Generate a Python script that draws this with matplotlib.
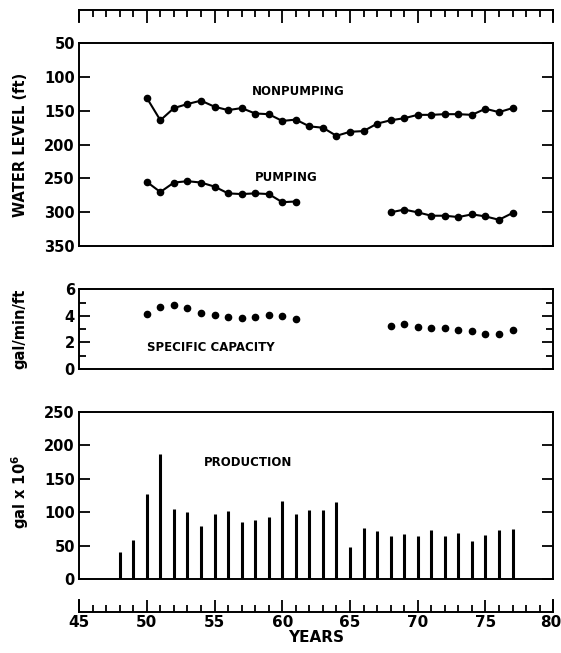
import matplotlib
import matplotlib.pyplot as plt
from matplotlib.ticker import MultipleLocator, FuncFormatter

matplotlib.use("Agg")

# water level (ft below surface)
np_years = [50, 51, 52, 53, 54, 55, 56, 57, 58, 59, 60, 61, 62, 63,
            64, 65, 66, 67, 68, 69, 70, 71, 72, 73, 74, 75, 76, 77]
nonpumping = [131, 164, 146, 140, 135, 144, 149, 146, 154, 155, 165, 163, 173, 175,
              187, 181, 180, 169, 164, 161, 156, 156, 155, 155, 156, 147, 152, 146]

pump_years_a = [50, 51, 52, 53, 54, 55, 56, 57, 58, 59, 60, 61]
pumping_a = [255, 270, 256, 254, 256, 262, 272, 273, 272, 273, 285, 284]
pump_years_b = [68, 69, 70, 71, 72, 73, 74, 75, 76, 77]
pumping_b = [300, 296, 300, 305, 305, 307, 303, 306, 311, 301]

# specific capacity (gal/min/ft)
sc_years = [50, 51, 52, 53, 54, 55, 56, 57, 58, 59, 60, 61,
            68, 69, 70, 71, 72, 73, 74, 75, 76, 77]
spec_cap = [4.15, 4.65, 4.8, 4.6, 4.2, 4.1, 3.9, 3.85, 3.9, 4.1, 3.95, 3.75,
            3.2, 3.35, 3.15, 3.05, 3.05, 2.9, 2.85, 2.65, 2.6, 2.9]

# production (gal x 10^6)
prod_years = [48, 49, 50, 51, 52, 53, 54, 55, 56, 57, 58, 59, 60, 61, 62,
              63, 64, 65, 66, 67, 68, 69, 70, 71, 72, 73, 74, 75, 76, 77]
production = [41, 58, 127, 188, 105, 101, 80, 97, 102, 86, 88, 93, 117, 98, 104,
              103, 115, 48, 76, 72, 64, 68, 64, 74, 65, 69, 57, 66, 74, 75]

plt.rcParams['font.family'] = ['DejaVu Sans']
plt.rcParams['font.weight'] = 'bold'

fig = plt.figure(figsize=(5.61, 6.53), dpi=100)

L, W = 0.141, 0.845
ax1 = fig.add_axes([L, 0.623, W, 0.311])
ax2 = fig.add_axes([L, 0.435, W, 0.122])
ax3 = fig.add_axes([L, 0.113, W, 0.256])

for ax in (ax1, ax2, ax3):
    ax.set_xlim(45, 80)
    ax.set_xticks([])
    for s in ax.spines.values():
        s.set_linewidth(1.4)
    ax.tick_params(axis='y', which='both', direction='in', left=True, right=True,
                   labelsize=10.5, pad=3, width=1.3)
    ax.tick_params(axis='y', which='major', length=8)
    ax.tick_params(axis='y', which='minor', length=5)

# water level panel
ax1.plot(np_years, nonpumping, color='black', lw=1.5, marker='o', ms=4.5)
ax1.plot(pump_years_a, pumping_a, color='black', lw=1.5, marker='o', ms=4.5)
ax1.plot(pump_years_b, pumping_b, color='black', lw=1.5, marker='o', ms=4.5)
ax1.set_ylim(350, 50)
ax1.set_yticks([50, 100, 150, 200, 250, 300, 350])
ax1.text(61.2, 122, 'NONPUMPING', fontsize=8.5, ha='center', va='center')
ax1.text(60.3, 248, 'PUMPING', fontsize=8.5, ha='center', va='center')

# specific capacity panel
ax2.plot(sc_years, spec_cap, 'o', color='black', ms=4.5)
ax2.set_ylim(0, 6)
ax2.set_yticks([0, 2, 4, 6])
ax2.yaxis.set_minor_locator(MultipleLocator(1))
ax2.text(50, 1.6, 'SPECIFIC CAPACITY', fontsize=8.5, ha='left', va='center')

# production panel
ax3.vlines(prod_years, 0, production, color='black', lw=2.2)
ax3.set_ylim(0, 250)
ax3.set_yticks([0, 50, 100, 150, 200, 250])
ax3.text(54.2, 174, 'PRODUCTION', fontsize=8.5, ha='left', va='center')

fig.text(0.036, 0.778, 'WATER LEVEL (ft)', rotation=90, ha='center', va='center',
         fontsize=10.5)
fig.text(0.036, 0.496, 'gal/min/ft', rotation=90, ha='center', va='center',
         fontsize=10.5)
fig.text(0.036, 0.247, 'gal x 10$^6$', rotation=90, ha='center', va='center',
         fontsize=10.5)

# top and bottom year rulers
top = fig.add_axes([L, 0.968, W, 0.017])
bot = fig.add_axes([L, 0.063, W, 0.018])
for ax, side in ((top, 'top'), (bot, 'bottom')):
    ax.set_xlim(45, 80)
    ax.set_yticks([])
    ax.patch.set_alpha(0)
    for name, s in ax.spines.items():
        s.set_linewidth(1.4)
        s.set_visible(name in (side, 'left', 'right'))
    ax.xaxis.set_major_locator(MultipleLocator(5))
    ax.xaxis.set_minor_locator(MultipleLocator(1))
    ax.tick_params(axis='x', which='both', direction='in', width=1.3,
                   top=(side == 'top'), bottom=(side == 'bottom'),
                   labeltop=False, labelbottom=(side == 'bottom'))
    ax.tick_params(axis='x', which='major', length=9)
    ax.tick_params(axis='x', which='minor', length=5)

# last label (80) is drawn separately so it stays inside the figure
bot.xaxis.set_major_formatter(FuncFormatter(lambda v, p: '' if v >= 80 else f'{v:.0f}'))
bot.tick_params(axis='x', labelsize=11, pad=2)
bot.annotate('80', xy=(80, 0), xycoords=('data', 'axes fraction'),
             xytext=(6, -2), textcoords='offset points', ha='right', va='top',
             fontsize=11, fontweight='bold')
bot.set_xlabel('YEARS', fontsize=11, fontweight='bold', labelpad=0)

fig.savefig('out.png', dpi=100)
